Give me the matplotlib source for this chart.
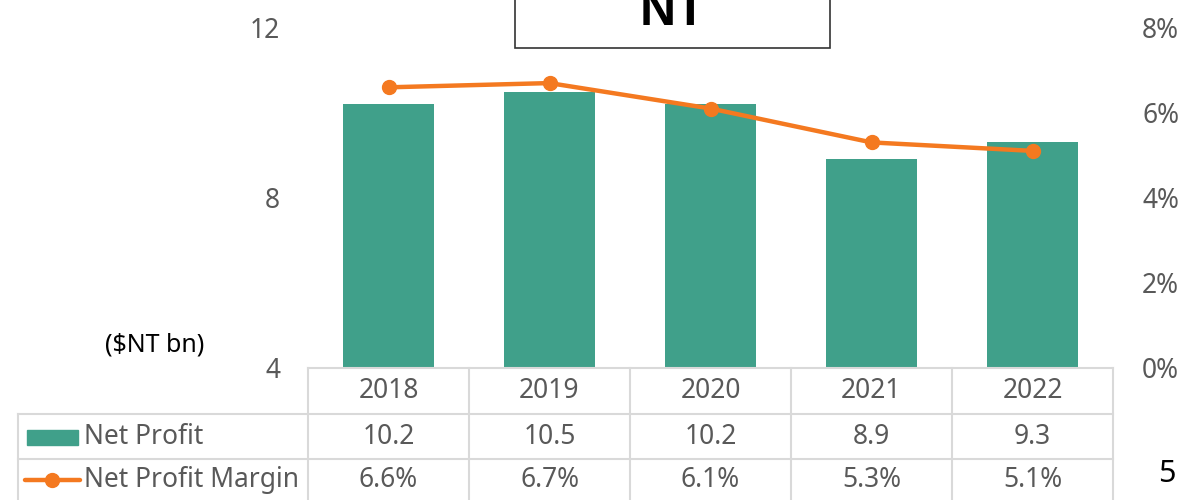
import numpy as np
import matplotlib.pyplot as plt
from matplotlib.patches import Rectangle

years = ['2018', '2019', '2020', '2021', '2022']
net_profit = [10.2, 10.5, 10.2, 8.9, 9.3]
margin = [6.6, 6.7, 6.1, 5.3, 5.1]  # percent

TEAL = '#40A08A'
ORANGE = '#F47920'
GRAY = '#595959'
GRID = '#D9D9D9'
FONT = 'Noto Sans'
FS = 19

W, H = 1188, 500
fig = plt.figure(figsize=(W / 100, H / 100), dpi=100)

# plot area in pixels
left, right, top, bottom = 308, 1113, 28, 367
ax = fig.add_axes([left / W, 1 - bottom / H, (right - left) / W, (bottom - top) / H])
x = np.arange(len(years))
ax.bar(x, net_profit, width=0.56, color=TEAL, zorder=2)
ax.set_xlim(-0.5, len(years) - 0.5)
ax.set_ylim(4, 12)
ax.set_yticks([4, 8, 12])
ax.set_xticks([])
ax.tick_params(axis='y', length=0, pad=20, labelsize=FS, labelcolor=GRAY)
for s in ax.spines.values():
    s.set_visible(False)
for lab in ax.get_yticklabels():
    lab.set_fontfamily(FONT)

ax2 = ax.twinx()
ax2.plot(x, [m / 100 for m in margin], color=ORANGE, lw=3.2, marker='o', ms=10, zorder=3)
ax2.set_ylim(0, 0.08)
ax2.set_yticks([0, 0.02, 0.04, 0.06, 0.08])
ax2.set_yticklabels([f'{int(round(v * 100))}%' for v in ax2.get_yticks()])
ax2.tick_params(axis='y', length=0, pad=21, labelsize=FS, labelcolor=GRAY)
for s in ax2.spines.values():
    s.set_visible(False)
for lab in ax2.get_yticklabels():
    lab.set_fontfamily(FONT)

# overlay in pixel coordinates for table, title box and notes
ov = fig.add_axes([0, 0, 1, 1], zorder=5)
ov.set_xlim(0, W)
ov.set_ylim(H, 0)
ov.axis('off')
ov.patch.set_alpha(0)

colw = (right - left) / len(years)
rows = [368, 414, 459, 505]
legend_left = 18

# grid lines
ov.plot([left, right], [rows[0], rows[0]], color=GRID, lw=1.5)
for r in rows[1:]:
    ov.plot([legend_left, right], [r, r], color=GRID, lw=1.5)
for i in range(len(years) + 1):
    xe = left + i * colw
    ov.plot([xe, xe], [rows[0], rows[-1]], color=GRID, lw=1.5)
ov.plot([legend_left, legend_left], [rows[1], rows[-1]], color=GRID, lw=1.5)

tkw = dict(fontsize=FS, color=GRAY, family=FONT, ha='center', va='center')
y0 = (rows[0] + rows[1]) / 2
y1 = (rows[1] + rows[2]) / 2
y2 = (rows[2] + rows[3]) / 2 - 2
for i, yr in enumerate(years):
    cx = left + (i + 0.5) * colw
    ov.text(cx, y0, yr, **tkw)
    ov.text(cx, y1, f'{net_profit[i]:.1f}', **tkw)
    ov.text(cx, y2, f'{margin[i]:.1f}%', **tkw)

# legend keys in table
ov.add_patch(Rectangle((27, y1 - 7), 51, 15, color=TEAL))
ov.text(84, y1, 'Net Profit', fontsize=FS, color=GRAY, family=FONT, va='center', ha='left')
ov.plot([25, 80], [y2, y2], color=ORANGE, lw=3.2, solid_capstyle='round')
ov.plot([52], [y2], 'o', color=ORANGE, ms=10)
ov.text(84, y2, 'Net Profit Margin', fontsize=FS, color=GRAY, family=FONT, va='center', ha='left')

# unit label
ov.text(155, 345, '($NT bn)', fontsize=FS - 1, color='black', family=FONT, ha='center', va='center')

# title box, cut at the top of the slide
ov.add_patch(Rectangle((515, -20), 315, 68, facecolor='white', edgecolor='#333333', lw=1.2))
ov.text(673, 25, 'NT', fontsize=36, fontweight='bold', family='Liberation Sans',
        color='black', ha='center', va='baseline')

# page number
ov.text(1167, 474, '5', fontsize=22, color='black', family=FONT, ha='center', va='center')

fig.savefig('out.png', dpi=100)
